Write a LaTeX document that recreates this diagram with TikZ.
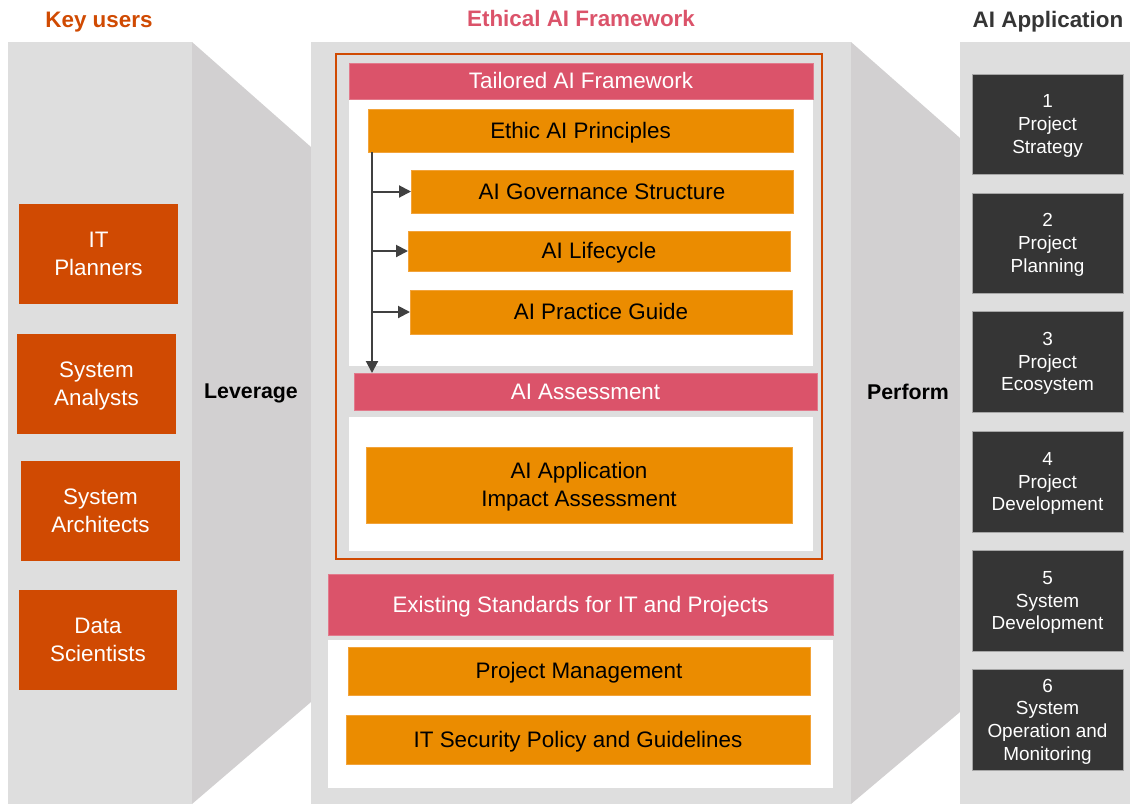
\documentclass[tikz,border=0pt]{standalone}
\usepackage{fontspec}
\setmainfont{Liberation Sans}
\usetikzlibrary{arrows.meta}
\definecolor{panel}{HTML}{DEDEDE}
\definecolor{trap}{HTML}{D2D0D1}
\definecolor{orbox}{HTML}{EB8C00}
\definecolor{orline}{HTML}{F2A33A}
\definecolor{pinkbar}{HTML}{DB536A}
\definecolor{pinkline}{HTML}{E27A8C}
\definecolor{rust}{HTML}{D04A02}
\definecolor{darkbox}{HTML}{353535}
\definecolor{arrowgrey}{HTML}{404040}
\newcommand\vstr{\rule[-0.212em]{0pt}{1.117em}}
\newcommand\rbox[7]{\node[#1, minimum width={(#5-#3)*0.75pt}, minimum height={(#6-#4)*0.75pt}] (#2) at ({(#3+#5)/2},{(#4+#6)/2}) {\vstr#7\vstr};}
\tikzset{
  base/.style={inner sep=0pt, outer sep=0pt, align=center},
  userbox/.style={base, fill=rust, text=white, font=\fontsize{16.8}{21}\selectfont},
  pinkbox/.style={base, fill=pinkbar, draw=pinkline, line width=0.4pt, text=white, font=\fontsize{16.8}{21}\selectfont},
  orangebox/.style={base, fill=orbox, draw=orline, line width=0.4pt, text=black, font=\fontsize{16.8}{21}\selectfont},
  stagebox/.style={base, fill=darkbox, draw=gray!70, line width=0.4pt, text=white, font=\fontsize{14.2}{17}\selectfont},
  whitearea/.style={base, fill=white},
  header/.style={inner sep=0pt, execute at begin node=\vstr, font=\fontsize{16.8}{20}\selectfont\bfseries},
  sidelabel/.style={inner sep=0pt, execute at begin node=\vstr, font=\fontsize{16}{19}\selectfont\bfseries},
  flow/.style={draw=arrowgrey, line width=1.5pt, -{Triangle[length=9pt,width=9pt]}},
}
\begin{document}
\begin{tikzpicture}[x=0.75pt,y=-0.75pt]
\useasboundingbox (0,0) rectangle (1130,804);
% background panels
\fill[panel] (8,42) rectangle (192,804);
\fill[trap] (192,42) -- (311,147) -- (311,702) -- (192,804) -- cycle;
\fill[panel] (311,42) rectangle (851,804);
\fill[trap] (851,42) -- (960,138) -- (960,712) -- (851,804) -- cycle;
\fill[panel] (960,42) rectangle (1130,804);

% headers
\node[header, text=rust] (hkey) at (99,20) {Key users};
\node[header, text=pinkbar] (heth) at (581,19) {Ethical AI Framework};
\node[header, text=darkbox] (happ) at (1048,20) {AI Application};
\node[sidelabel] (lev) at (251,391) {Leverage};
\node[sidelabel] (perf) at (908,392) {Perform};

% key users
\rbox{userbox}{u1}{19}{204}{178}{304}{IT\\Planners}
\rbox{userbox}{u2}{17}{334}{176}{434}{System\\Analysts}
\rbox{userbox}{u3}{21}{461}{180}{561}{System\\Architects}
\rbox{userbox}{u4}{19}{590}{177}{690}{Data\\Scientists}

% framework
\draw[rust, line width=1.5pt] (336,54) rectangle (822,559);
\rbox{whitearea}{w1}{349}{99}{813}{366}{}
\rbox{whitearea}{w2}{349}{417}{813}{551}{}
\rbox{whitearea}{w3}{328}{640}{833}{788}{}
\rbox{pinkbox}{tail}{349}{63}{813}{99}{Tailored AI Framework}
\rbox{orangebox}{ethic}{368}{109}{793}{152}{Ethic AI Principles}
\rbox{orangebox}{gov}{411}{170}{793}{213}{AI Governance Structure}
\rbox{orangebox}{life}{408}{231}{790}{271}{AI Lifecycle}
\rbox{orangebox}{prac}{410}{290}{792}{334}{AI Practice Guide}
\rbox{pinkbox}{assess}{354}{373}{817}{410}{AI Assessment}
\rbox{orangebox}{impact}{366}{447}{792}{523}{AI Application\\Impact Assessment}
\rbox{pinkbox}{exist}{328}{574}{833}{635}{Existing Standards for IT and Projects}
\rbox{orangebox}{pm}{348}{647}{810}{695}{Project Management}
\rbox{orangebox}{sec}{346}{715}{810}{764}{IT Security Policy and Guidelines}

% arrows
\coordinate (vtop) at (372,152);
\draw[flow] (vtop) -- (vtop |- assess.north);
\draw[flow] (vtop |- gov.west) -- (gov.west);
\draw[flow] (vtop |- life.west) -- (life.west);
\draw[flow] (vtop |- prac.west) -- (prac.west);

% stages
\rbox{stagebox}{s1}{972}{74}{1123}{174}{1\\Project\\Strategy}
\rbox{stagebox}{s2}{972}{193}{1123}{293}{2\\Project\\Planning}
\rbox{stagebox}{s3}{972}{311}{1123}{412}{3\\Project\\Ecosystem}
\rbox{stagebox}{s4}{972}{431}{1123}{532}{4\\Project\\Development}
\rbox{stagebox}{s5}{972}{550}{1123}{651}{5\\System\\Development}
\rbox{stagebox}{s6}{972}{669}{1123}{770}{6\\System\\Operation and\\Monitoring}
\end{tikzpicture}
\end{document}
